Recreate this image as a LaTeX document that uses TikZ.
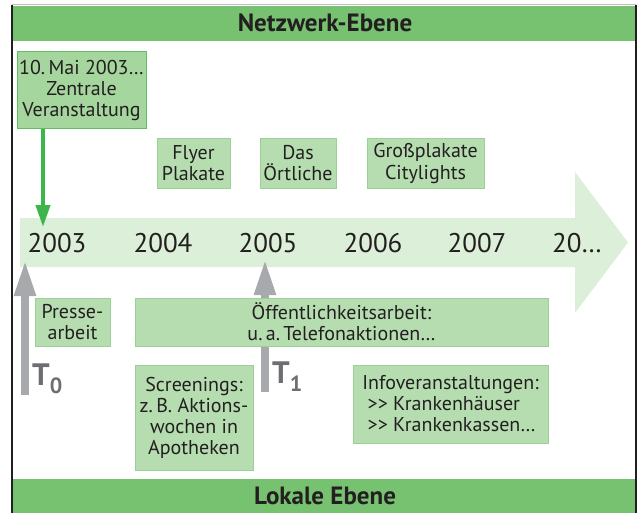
\documentclass[tikz,border=0pt]{standalone}
\usepackage{fontspec}
\setmainfont{PT Sans}
\usetikzlibrary{arrows.meta}
\definecolor{bandgreen}{HTML}{77C271}
\definecolor{boxfill}{HTML}{B5DDB0}
\definecolor{boxline}{HTML}{9CD196}
\definecolor{zentralfill}{HTML}{A5D69E}
\definecolor{zentralline}{HTML}{5FBD62}
\definecolor{arrowgreen}{HTML}{3CB54A}
\definecolor{timefill}{HTML}{DCEFD8}
\definecolor{arrowgray}{HTML}{A7A9AC}
\definecolor{labelgray}{HTML}{6D6E71}
\definecolor{textdark}{HTML}{231F20}
\begin{document}
\begin{tikzpicture}
[x=1pt,y=-1pt,
  boxdecorate/.style={draw=boxline,fill=boxfill,line width=1pt,align=center,
    inner sep=0pt,text=textdark,font=\fontsize{20}{21}\selectfont},%
  yeardecorate/.style={inner sep=0pt,text=textdark,font=\fontsize{27}{27}\selectfont},%
  banddecorate/.style={inner sep=0pt,text=textdark,font=\bfseries\fontsize{25}{25}\selectfont},%
  grayarrow/.style={-{Triangle[width=20pt,length=36pt]},line width=8pt,draw=arrowgray},%
  tlabel/.style={inner sep=0pt,anchor=base west,text=labelgray,font=\bfseries\fontsize{31}{31}\selectfont}]
\useasboundingbox (0,0) rectangle (639,513);
%% levels
\fill[bandgreen] (12,6) rectangle (636,41);
\fill[bandgreen] (12,479) rectangle (636,513);
\draw[line width=1pt,black!25] (12,5) -- (636,5);
\draw[line width=1.5pt,textdark] (12,5) -- (12,513) (636,5) -- (636,513);
\node (netz) at (325,23) [banddecorate] {Netzwerk-Ebene};
\node (lokal) at (325,496) [banddecorate] {Lokale Ebene};
%% time line
\fill[timefill] (20,218) -- (575,218) -- (575,172) -- (628,242.5)
  -- (575,313) -- (575,267) -- (20,267) -- cycle;
\foreach \yearname/\x/\yeartext in {
  y2003/57/2003, y2004/163/2004, y2005/268/2005,
  y2006/373/2006, y2007/477/2007, ymore/577/20…} {
  \node (\yearname) at (\x,243) [yeardecorate] {\yeartext};
}
%% start points T0 and T1
\coordinate (t0foot) at (25,395);
\coordinate (t0tip) at (25,260);
\coordinate (t1foot) at (265,392);
\coordinate (t1tip) at (265,259);
\draw[grayarrow] (t0foot) -- (t0tip);
\draw[grayarrow] (t1foot) -- (t1tip);
\node (t0label) at (32,385) [tlabel] {T\raisebox{-8pt}{\fontsize{22}{22}\selectfont 0}};
\node (t1label) at (272,383) [tlabel] {T\raisebox{-8pt}{\fontsize{22}{22}\selectfont 1}};
%% measures
\foreach \nodename/\x/\y/\w/\h/\boxtext in {
  flyer/193.5/163.5/73/49/{Flyer\\Plakate},
  oertlich/298/163.5/76/49/{Das\\Örtliche},
  gross/425.5/163.5/117/49/{Großplakate\\Citylights},
  presse/72.5/322/75/48/{Presse-\\arbeit},
  oeffentlich/341.5/322/413/48/{Öffentlichkeitsarbeit:\\u.\,a.\,Telefonaktionen…},
  screening/194/417.5/118/105/{Screenings:\\z.\,B. Aktions-\\wochen in\\Apotheken}} {
  \node (\nodename) at (\x,\y) [boxdecorate,minimum width=\w pt,minimum height=\h pt] {\boxtext};
}
\node (info) at (450.5,404) [boxdecorate,align=left,minimum width=195pt,minimum height=78pt]
  {Infoveranstaltungen:\\\ >{}> Krankenhäuser\\\ >{}> Krankenkassen…};
%% central event
\node (zentral) at (81.5,90.5) [boxdecorate,draw=zentralline,fill=zentralfill,
  minimum width=129pt,minimum height=77pt] {10.\,Mai 2003…\\Zentrale\\Veranstaltung};
\coordinate (gtip) at (43,227);
\draw[-{Triangle[width=14pt,length=22pt]},line width=4pt,arrowgreen] (zentral.south -| gtip) -- (gtip);
\end{tikzpicture}
\end{document}
